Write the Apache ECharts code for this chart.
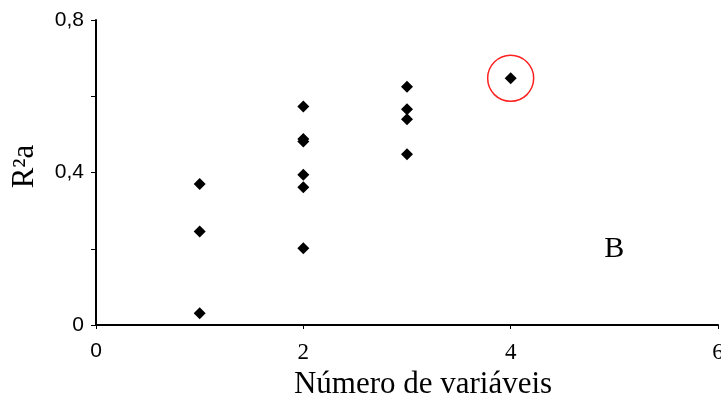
<!DOCTYPE html>
<html>
<head>
<meta charset="utf-8">
<script src="https://cdn.jsdelivr.net/npm/echarts@6/dist/echarts.min.js"></script>
<style>
html,body{margin:0;padding:0;background:#fff;}
#chart{width:721px;height:413px;}
</style>
</head>
<body>
<div id="chart"></div>
<script>
// Number of variables (x) and adjusted R² (y)
const vars1 = [0.370, 0.245, 0.031];
const vars2 = [0.573, 0.488, 0.481, 0.394, 0.361, 0.201];
const vars3 = [0.625, 0.566, 0.540, 0.448];
const vars4 = [0.647];
const highlighted = [[4, 0.647]];
const panelLabel = 'B';
const panelLabelPos = [5, 0.2];
const xTicks = [0, 2, 4, 6];
const yTicks = [0, 0.4, 0.8];

const points = [];
[[1, vars1], [2, vars2], [3, vars3], [4, vars4]].forEach(([n, arr]) => {
  arr.forEach(v => points.push([n, v]));
});

const chart = echarts.init(document.getElementById('chart'), null, {renderer: 'canvas'});
chart.setOption({
  animation: false,
  backgroundColor: '#ffffff',
  grid: {left: 96, right: 3, top: 20, bottom: 88, containLabel: false, outerBoundsMode: 'none'},
  xAxis: {
    type: 'value', min: 0, max: 6, interval: 2,
    name: 'Número de variáveis', nameLocation: 'middle', nameGap: 44,
    nameTextStyle: {fontFamily: 'Liberation Serif', fontSize: 31, color: '#000', padding: [0, 0, 0, 32]},
    axisLine: {show: true, onZero: false, lineStyle: {color: '#000', width: 2}},
    axisTick: {show: true, length: 4, lineStyle: {color: '#000', width: 1}},
    splitLine: {show: false},
    axisLabel: {
      margin: 16,
      color: '#000',
      fontFamily: 'Liberation Serif', fontSize: 23,
      formatter: v => xTicks.includes(v) ? (v === 0 ? '{s|0}' : String(v)) : '',
      rich: {s: {fontFamily: 'Liberation Sans', fontSize: 21, color: '#000'}}
    }
  },
  yAxis: {
    type: 'value', min: 0, max: 0.8, interval: 0.2,
    name: 'R²a', nameLocation: 'middle', nameGap: 56, nameRotate: 90,
    nameTextStyle: {fontFamily: 'Liberation Serif', fontSize: 31, color: '#000', padding: [0, 0, 0, 12]},
    axisLine: {show: true, onZero: false, lineStyle: {color: '#000', width: 2}},
    axisTick: {show: true, length: 5, lineStyle: {color: '#000', width: 1}},
    splitLine: {show: false},
    axisLabel: {
      margin: 12, color: '#000',
      fontFamily: 'Liberation Sans', fontSize: 21,
      formatter: v => {
        const hit = yTicks.find(t => Math.abs(t - v) < 1e-9);
        return hit === undefined ? '' : String(hit).replace('.', ',');
      }
    }
  },
  series: [
    {
      type: 'scatter', data: points,
      symbol: 'diamond', symbolSize: 12,
      itemStyle: {color: '#000', opacity: 1}
    },
    {
      type: 'scatter', data: highlighted,
      symbol: 'circle', symbolSize: 46,
      itemStyle: {color: 'rgba(0,0,0,0)', borderColor: '#ff2020', borderWidth: 1.5, opacity: 1},
      z: 1
    },
    {
      type: 'scatter', data: [panelLabelPos],
      symbolSize: 0,
      itemStyle: {opacity: 1},
      label: {show: true, position: 'inside', formatter: panelLabel,
        fontFamily: 'Liberation Serif', fontSize: 30, color: '#000'}
    }
  ]
});
</script>
</body>
</html>
